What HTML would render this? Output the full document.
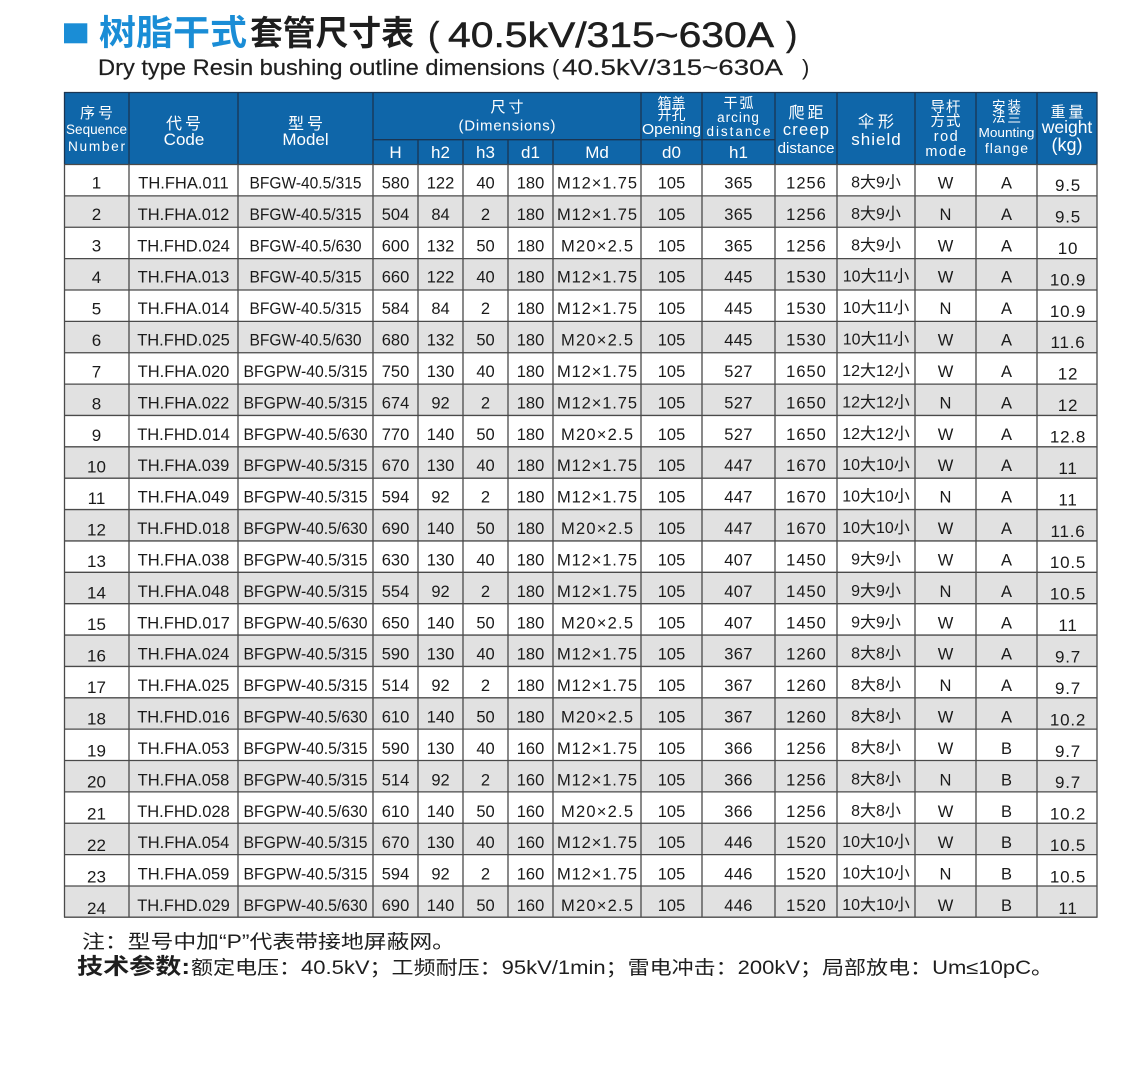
<!DOCTYPE html>
<html>
<head>
<meta charset="utf-8">
<style>
html,body{margin:0;padding:0;background:#fff;}
svg{display:block;}
.t{font-family:"Liberation Sans","Noto Sans CJK SC",sans-serif;}
.h{font-family:"Liberation Sans","Noto Sans CJK SC",sans-serif;fill:#fff;text-anchor:middle;}
.r text{font-family:"Liberation Sans","Noto Sans CJK SC",sans-serif;font-size:16.5px;fill:#1a1a1a;text-anchor:middle;}
.r .s{font-size:17px;}
.r .w{font-size:17px;letter-spacing:0.8px;}
.r .ls{letter-spacing:1px;}
.r .ls0{letter-spacing:0.3px;}
.r .sh{font-size:16px;}
</style>
</head>
<body>
<svg width="1148" height="1067" viewBox="0 0 1148 1067" xmlns="http://www.w3.org/2000/svg">
<rect x="0" y="0" width="1148" height="1067" fill="#fff"/>

<!-- Title -->
<rect x="64" y="23.3" width="23.3" height="20" fill="#1a8dd6"/>
<text class="t" x="99" y="45" font-size="35" font-weight="bold" fill="#1a8dd6" textLength="148" lengthAdjust="spacingAndGlyphs">树脂干式</text>
<text class="t" x="250" y="45" font-size="34" font-weight="bold" fill="#1e1e1e" textLength="164" lengthAdjust="spacingAndGlyphs">套管尺寸表</text>
<text class="t" x="428" y="46" font-size="34" fill="#1e1e1e" stroke="#1e1e1e" stroke-width="0.4">(</text>
<text class="t" x="448" y="47" font-size="35" fill="#1e1e1e" stroke="#1e1e1e" stroke-width="0.5" textLength="326" lengthAdjust="spacingAndGlyphs">40.5kV/315~630A</text>
<text class="t" x="786" y="46" font-size="34" fill="#1e1e1e" stroke="#1e1e1e" stroke-width="0.4">)</text>

<text class="t" x="98" y="75" font-size="22.5" fill="#1e1e1e" stroke="#1e1e1e" stroke-width="0.2" textLength="447" lengthAdjust="spacingAndGlyphs">Dry type Resin bushing outline dimensions</text>
<text class="t" x="552" y="75" font-size="22" fill="#1e1e1e">(</text>
<text class="t" x="562" y="75" font-size="22.5" fill="#1e1e1e" stroke="#1e1e1e" stroke-width="0.2" textLength="221" lengthAdjust="spacingAndGlyphs">40.5kV/315~630A</text>
<text class="t" x="802" y="75" font-size="22" fill="#1e1e1e">)</text>

<!-- Header background -->
<rect x="64" y="92" width="1033.5" height="72.5" fill="#0f66a9"/>

<!-- Row backgrounds (even rows gray) -->
<g fill="#e1e1e1">
<rect x="64" y="195.87" width="1033.5" height="31.37"/>
<rect x="64" y="258.61" width="1033.5" height="31.37"/>
<rect x="64" y="321.35" width="1033.5" height="31.37"/>
<rect x="64" y="384.09" width="1033.5" height="31.37"/>
<rect x="64" y="446.83" width="1033.5" height="31.37"/>
<rect x="64" y="509.57" width="1033.5" height="31.37"/>
<rect x="64" y="572.31" width="1033.5" height="31.37"/>
<rect x="64" y="635.05" width="1033.5" height="31.37"/>
<rect x="64" y="697.79" width="1033.5" height="31.37"/>
<rect x="64" y="760.53" width="1033.5" height="31.37"/>
<rect x="64" y="823.27" width="1033.5" height="31.37"/>
<rect x="64" y="886.01" width="1033.5" height="31.37"/>
</g>

<!-- Header lines -->
<g stroke="#1b3552" stroke-width="1.3" fill="none">
<path d="M64 92.5 H1097.5"/>
<path d="M64.5 92 V164.5 M129 92 V164.5 M238 92 V164.5 M373 92 V164.5 M641 92 V164.5 M702 92 V164.5 M775 92 V164.5 M837 92 V164.5 M915 92 V164.5 M976 92 V164.5 M1037 92 V164.5 M1097 92 V164.5"/>
<path d="M373 139.7 H775"/>
<path d="M418 139.7 V164.5 M463 139.7 V164.5 M508 139.7 V164.5 M553 139.7 V164.5"/>
</g>

<!-- Data grid -->
<g stroke="#4a4a4a" stroke-width="1.3" fill="none">
<path d="M64 164.5 H1097.5 M64 195.87 H1097.5 M64 227.24 H1097.5 M64 258.61 H1097.5 M64 289.98 H1097.5 M64 321.35 H1097.5 M64 352.72 H1097.5 M64 384.09 H1097.5 M64 415.46 H1097.5 M64 446.83 H1097.5 M64 478.2 H1097.5 M64 509.57 H1097.5 M64 540.94 H1097.5 M64 572.31 H1097.5 M64 603.68 H1097.5 M64 635.05 H1097.5 M64 666.42 H1097.5 M64 697.79 H1097.5 M64 729.16 H1097.5 M64 760.53 H1097.5 M64 791.9 H1097.5 M64 823.27 H1097.5 M64 854.64 H1097.5 M64 886.01 H1097.5 M64 917.2 H1097.5"/>
<path d="M64.5 164.5 V917.4 M129 164.5 V917.4 M238 164.5 V917.4 M373 164.5 V917.4 M418 164.5 V917.4 M463 164.5 V917.4 M508 164.5 V917.4 M553 164.5 V917.4 M641 164.5 V917.4 M702 164.5 V917.4 M775 164.5 V917.4 M837 164.5 V917.4 M915 164.5 V917.4 M976 164.5 V917.4 M1037 164.5 V917.4 M1097 164.5 V917.4"/>
</g>

<!-- Header text -->
<text class="h" x="98" y="118" font-size="15" letter-spacing="3">序号</text>
<text class="h" x="96.5" y="134" font-size="13.7" textLength="61" lengthAdjust="spacingAndGlyphs">Sequence</text>
<text class="h" x="96.5" y="151" font-size="13.7" textLength="57" lengthAdjust="spacing">Number</text>

<text class="h" x="185" y="129" font-size="16" letter-spacing="3">代号</text>
<text class="h" x="184" y="145" font-size="17">Code</text>

<text class="h" x="307" y="129" font-size="16" letter-spacing="3">型号</text>
<text class="h" x="305.5" y="145" font-size="17">Model</text>

<text class="h" x="508.5" y="112" font-size="15" letter-spacing="3">尺寸</text>
<text class="h" x="507" y="130.5" font-size="15" textLength="97" lengthAdjust="spacing">(Dimensions)</text>

<text class="h" x="395.5" y="158" font-size="17">H</text>
<text class="h" x="440.5" y="158" font-size="17">h2</text>
<text class="h" x="485.5" y="158" font-size="17">h3</text>
<text class="h" x="530.5" y="158" font-size="17">d1</text>
<text class="h" x="597" y="158" font-size="17">Md</text>
<text class="h" x="671.5" y="158" font-size="17">d0</text>
<text class="h" x="738.5" y="158" font-size="17">h1</text>

<text class="h" x="671.5" y="108" font-size="14">箱盖</text>
<text class="h" x="671.5" y="120" font-size="14">开孔</text>
<text class="h" x="671.5" y="134" font-size="14.5" textLength="59" lengthAdjust="spacingAndGlyphs">Opening</text>

<text class="h" x="739.5" y="108" font-size="14" letter-spacing="2">干弧</text>
<text class="h" x="738.5" y="122" font-size="13.5" letter-spacing="1">arcing</text>
<text class="h" x="738.5" y="136" font-size="13.5" textLength="64" lengthAdjust="spacing">distance</text>

<text class="h" x="807.5" y="118" font-size="16" letter-spacing="3">爬距</text>
<text class="h" x="806.5" y="135" font-size="16.5" letter-spacing="1.2">creep</text>
<text class="h" x="806" y="153" font-size="15" textLength="57" lengthAdjust="spacingAndGlyphs">distance</text>

<text class="h" x="878" y="127" font-size="16" letter-spacing="4">伞形</text>
<text class="h" x="876.5" y="145" font-size="17" letter-spacing="1">shield</text>

<text class="h" x="946" y="112" font-size="14.5" letter-spacing="1">导杆</text>
<text class="h" x="946" y="126" font-size="14.5" letter-spacing="1">方式</text>
<text class="h" x="946.5" y="141" font-size="14.5" letter-spacing="1.5">rod</text>
<text class="h" x="946.5" y="156" font-size="14.5" letter-spacing="1.5">mode</text>

<text class="h" x="1007.5" y="111" font-size="13.5" letter-spacing="2">安装</text>
<text class="h" x="1007.5" y="122" font-size="13.5" letter-spacing="2">法兰</text>
<text class="h" x="1006.5" y="137" font-size="13" textLength="56" lengthAdjust="spacingAndGlyphs">Mounting</text>
<text class="h" x="1007" y="153" font-size="14" letter-spacing="1">flange</text>

<text class="h" x="1068.5" y="117" font-size="15" letter-spacing="3">重量</text>
<text class="h" x="1067" y="133" font-size="17.5">weight</text>
<text class="h" x="1067" y="151" font-size="18">(kg)</text>

<!-- Data rows -->
<g class="r" transform="translate(0,164.5)">
<text class="s" x="96.5" y="24">1</text><text x="183.5" y="24">TH.FHA.011</text><text x="305.5" y="24" textLength="112" lengthAdjust="spacingAndGlyphs">BFGW-40.5/315</text><text x="395.5" y="24">580</text><text x="440.5" y="24">122</text><text x="485.5" y="24">40</text><text x="530.5" y="24">180</text><text x="597" y="24" textLength="80" lengthAdjust="spacing">M12×1.75</text><text x="671.5" y="24">105</text><text class="ls0" x="738.5" y="24">365</text><text class="ls" x="806.5" y="24">1256</text><text class="sh" x="876" y="23">8大9小</text><text x="945.5" y="24">W</text><text x="1006.5" y="24">A</text><text class="w" x="1068" y="26.5">9.5</text>
</g>
<g class="r" transform="translate(0,195.87)">
<text class="s" x="96.5" y="24.2">2</text><text x="183.5" y="24">TH.FHA.012</text><text x="305.5" y="24" textLength="112" lengthAdjust="spacingAndGlyphs">BFGW-40.5/315</text><text x="395.5" y="24">504</text><text x="440.5" y="24">84</text><text x="485.5" y="24">2</text><text x="530.5" y="24">180</text><text x="597" y="24" textLength="80" lengthAdjust="spacing">M12×1.75</text><text x="671.5" y="24">105</text><text class="ls0" x="738.5" y="24">365</text><text class="ls" x="806.5" y="24">1256</text><text class="sh" x="876" y="23">8大9小</text><text x="945.5" y="24">N</text><text x="1006.5" y="24">A</text><text class="w" x="1068" y="26.6">9.5</text>
</g>
<g class="r" transform="translate(0,227.24)">
<text class="s" x="96.5" y="24.3">3</text><text x="183.5" y="24.1">TH.FHD.024</text><text x="305.5" y="24.1" textLength="112" lengthAdjust="spacingAndGlyphs">BFGW-40.5/630</text><text x="395.5" y="24.1">600</text><text x="440.5" y="24.1">132</text><text x="485.5" y="24.1">50</text><text x="530.5" y="24.1">180</text><text x="597" y="24.1" textLength="72" lengthAdjust="spacing">M20×2.5</text><text x="671.5" y="24.1">105</text><text class="ls0" x="738.5" y="24.1">365</text><text class="ls" x="806.5" y="24.1">1256</text><text class="sh" x="876" y="23.1">8大9小</text><text x="945.5" y="24.1">W</text><text x="1006.5" y="24.1">A</text><text class="w" x="1068" y="26.6">10</text>
</g>
<g class="r" transform="translate(0,258.61)">
<text class="s" x="96.5" y="24.5">4</text><text x="183.5" y="24.1">TH.FHA.013</text><text x="305.5" y="24.1" textLength="112" lengthAdjust="spacingAndGlyphs">BFGW-40.5/315</text><text x="395.5" y="24.1">660</text><text x="440.5" y="24.1">122</text><text x="485.5" y="24.1">40</text><text x="530.5" y="24.1">180</text><text x="597" y="24.1" textLength="80" lengthAdjust="spacing">M12×1.75</text><text x="671.5" y="24.1">105</text><text class="ls0" x="738.5" y="24.1">445</text><text class="ls" x="806.5" y="24.1">1530</text><text class="sh" x="876" y="23.1">10大11小</text><text x="945.5" y="24.1">W</text><text x="1006.5" y="24.1">A</text><text class="w" x="1068" y="26.7">10.9</text>
</g>
<g class="r" transform="translate(0,289.98)">
<text class="s" x="96.5" y="24.7">5</text><text x="183.5" y="24.2">TH.FHA.014</text><text x="305.5" y="24.2" textLength="112" lengthAdjust="spacingAndGlyphs">BFGW-40.5/315</text><text x="395.5" y="24.2">584</text><text x="440.5" y="24.2">84</text><text x="485.5" y="24.2">2</text><text x="530.5" y="24.2">180</text><text x="597" y="24.2" textLength="80" lengthAdjust="spacing">M12×1.75</text><text x="671.5" y="24.2">105</text><text class="ls0" x="738.5" y="24.2">445</text><text class="ls" x="806.5" y="24.2">1530</text><text class="sh" x="876" y="23.2">10大11小</text><text x="945.5" y="24.2">N</text><text x="1006.5" y="24.2">A</text><text class="w" x="1068" y="26.8">10.9</text>
</g>
<g class="r" transform="translate(0,321.35)">
<text class="s" x="96.5" y="24.9">6</text><text x="183.5" y="24.2">TH.FHD.025</text><text x="305.5" y="24.2" textLength="112" lengthAdjust="spacingAndGlyphs">BFGW-40.5/630</text><text x="395.5" y="24.2">680</text><text x="440.5" y="24.2">132</text><text x="485.5" y="24.2">50</text><text x="530.5" y="24.2">180</text><text x="597" y="24.2" textLength="72" lengthAdjust="spacing">M20×2.5</text><text x="671.5" y="24.2">105</text><text class="ls0" x="738.5" y="24.2">445</text><text class="ls" x="806.5" y="24.2">1530</text><text class="sh" x="876" y="23.2">10大11小</text><text x="945.5" y="24.2">W</text><text x="1006.5" y="24.2">A</text><text class="w" x="1068" y="26.8">11.6</text>
</g>
<g class="r" transform="translate(0,352.72)">
<text class="s" x="96.5" y="25">7</text><text x="183.5" y="24.3">TH.FHA.020</text><text x="305.5" y="24.3" textLength="124" lengthAdjust="spacingAndGlyphs">BFGPW-40.5/315</text><text x="395.5" y="24.3">750</text><text x="440.5" y="24.3">130</text><text x="485.5" y="24.3">40</text><text x="530.5" y="24.3">180</text><text x="597" y="24.3" textLength="80" lengthAdjust="spacing">M12×1.75</text><text x="671.5" y="24.3">105</text><text class="ls0" x="738.5" y="24.3">527</text><text class="ls" x="806.5" y="24.3">1650</text><text class="sh" x="876" y="23.3">12大12小</text><text x="945.5" y="24.3">W</text><text x="1006.5" y="24.3">A</text><text class="w" x="1068" y="26.9">12</text>
</g>
<g class="r" transform="translate(0,384.09)">
<text class="s" x="96.5" y="25.2">8</text><text x="183.5" y="24.3">TH.FHA.022</text><text x="305.5" y="24.3" textLength="124" lengthAdjust="spacingAndGlyphs">BFGPW-40.5/315</text><text x="395.5" y="24.3">674</text><text x="440.5" y="24.3">92</text><text x="485.5" y="24.3">2</text><text x="530.5" y="24.3">180</text><text x="597" y="24.3" textLength="80" lengthAdjust="spacing">M12×1.75</text><text x="671.5" y="24.3">105</text><text class="ls0" x="738.5" y="24.3">527</text><text class="ls" x="806.5" y="24.3">1650</text><text class="sh" x="876" y="23.3">12大12小</text><text x="945.5" y="24.3">N</text><text x="1006.5" y="24.3">A</text><text class="w" x="1068" y="27">12</text>
</g>
<g class="r" transform="translate(0,415.46)">
<text class="s" x="96.5" y="25.4">9</text><text x="183.5" y="24.4">TH.FHD.014</text><text x="305.5" y="24.4" textLength="124" lengthAdjust="spacingAndGlyphs">BFGPW-40.5/630</text><text x="395.5" y="24.4">770</text><text x="440.5" y="24.4">140</text><text x="485.5" y="24.4">50</text><text x="530.5" y="24.4">180</text><text x="597" y="24.4" textLength="72" lengthAdjust="spacing">M20×2.5</text><text x="671.5" y="24.4">105</text><text class="ls0" x="738.5" y="24.4">527</text><text class="ls" x="806.5" y="24.4">1650</text><text class="sh" x="876" y="23.4">12大12小</text><text x="945.5" y="24.4">W</text><text x="1006.5" y="24.4">A</text><text class="w" x="1068" y="27">12.8</text>
</g>
<g class="r" transform="translate(0,446.83)">
<text class="s" x="96.5" y="25.5">10</text><text x="183.5" y="24.4">TH.FHA.039</text><text x="305.5" y="24.4" textLength="124" lengthAdjust="spacingAndGlyphs">BFGPW-40.5/315</text><text x="395.5" y="24.4">670</text><text x="440.5" y="24.4">130</text><text x="485.5" y="24.4">40</text><text x="530.5" y="24.4">180</text><text x="597" y="24.4" textLength="80" lengthAdjust="spacing">M12×1.75</text><text x="671.5" y="24.4">105</text><text class="ls0" x="738.5" y="24.4">447</text><text class="ls" x="806.5" y="24.4">1670</text><text class="sh" x="876" y="23.4">10大10小</text><text x="945.5" y="24.4">W</text><text x="1006.5" y="24.4">A</text><text class="w" x="1068" y="27.1">11</text>
</g>
<g class="r" transform="translate(0,478.2)">
<text class="s" x="96.5" y="25.7">11</text><text x="183.5" y="24.5">TH.FHA.049</text><text x="305.5" y="24.5" textLength="124" lengthAdjust="spacingAndGlyphs">BFGPW-40.5/315</text><text x="395.5" y="24.5">594</text><text x="440.5" y="24.5">92</text><text x="485.5" y="24.5">2</text><text x="530.5" y="24.5">180</text><text x="597" y="24.5" textLength="80" lengthAdjust="spacing">M12×1.75</text><text x="671.5" y="24.5">105</text><text class="ls0" x="738.5" y="24.5">447</text><text class="ls" x="806.5" y="24.5">1670</text><text class="sh" x="876" y="23.5">10大10小</text><text x="945.5" y="24.5">N</text><text x="1006.5" y="24.5">A</text><text class="w" x="1068" y="27.2">11</text>
</g>
<g class="r" transform="translate(0,509.57)">
<text class="s" x="96.5" y="25.9">12</text><text x="183.5" y="24.5">TH.FHD.018</text><text x="305.5" y="24.5" textLength="124" lengthAdjust="spacingAndGlyphs">BFGPW-40.5/630</text><text x="395.5" y="24.5">690</text><text x="440.5" y="24.5">140</text><text x="485.5" y="24.5">50</text><text x="530.5" y="24.5">180</text><text x="597" y="24.5" textLength="72" lengthAdjust="spacing">M20×2.5</text><text x="671.5" y="24.5">105</text><text class="ls0" x="738.5" y="24.5">447</text><text class="ls" x="806.5" y="24.5">1670</text><text class="sh" x="876" y="23.5">10大10小</text><text x="945.5" y="24.5">W</text><text x="1006.5" y="24.5">A</text><text class="w" x="1068" y="27.2">11.6</text>
</g>
<g class="r" transform="translate(0,540.94)">
<text class="s" x="96.5" y="26">13</text><text x="183.5" y="24.5">TH.FHA.038</text><text x="305.5" y="24.5" textLength="124" lengthAdjust="spacingAndGlyphs">BFGPW-40.5/315</text><text x="395.5" y="24.5">630</text><text x="440.5" y="24.5">130</text><text x="485.5" y="24.5">40</text><text x="530.5" y="24.5">180</text><text x="597" y="24.5" textLength="80" lengthAdjust="spacing">M12×1.75</text><text x="671.5" y="24.5">105</text><text class="ls0" x="738.5" y="24.5">407</text><text class="ls" x="806.5" y="24.5">1450</text><text class="sh" x="876" y="23.5">9大9小</text><text x="945.5" y="24.5">W</text><text x="1006.5" y="24.5">A</text><text class="w" x="1068" y="27.3">10.5</text>
</g>
<g class="r" transform="translate(0,572.31)">
<text class="s" x="96.5" y="26.2">14</text><text x="183.5" y="24.6">TH.FHA.048</text><text x="305.5" y="24.6" textLength="124" lengthAdjust="spacingAndGlyphs">BFGPW-40.5/315</text><text x="395.5" y="24.6">554</text><text x="440.5" y="24.6">92</text><text x="485.5" y="24.6">2</text><text x="530.5" y="24.6">180</text><text x="597" y="24.6" textLength="80" lengthAdjust="spacing">M12×1.75</text><text x="671.5" y="24.6">105</text><text class="ls0" x="738.5" y="24.6">407</text><text class="ls" x="806.5" y="24.6">1450</text><text class="sh" x="876" y="23.6">9大9小</text><text x="945.5" y="24.6">N</text><text x="1006.5" y="24.6">A</text><text class="w" x="1068" y="27.3">10.5</text>
</g>
<g class="r" transform="translate(0,603.68)">
<text class="s" x="96.5" y="26.4">15</text><text x="183.5" y="24.6">TH.FHD.017</text><text x="305.5" y="24.6" textLength="124" lengthAdjust="spacingAndGlyphs">BFGPW-40.5/630</text><text x="395.5" y="24.6">650</text><text x="440.5" y="24.6">140</text><text x="485.5" y="24.6">50</text><text x="530.5" y="24.6">180</text><text x="597" y="24.6" textLength="72" lengthAdjust="spacing">M20×2.5</text><text x="671.5" y="24.6">105</text><text class="ls0" x="738.5" y="24.6">407</text><text class="ls" x="806.5" y="24.6">1450</text><text class="sh" x="876" y="23.6">9大9小</text><text x="945.5" y="24.6">W</text><text x="1006.5" y="24.6">A</text><text class="w" x="1068" y="27.4">11</text>
</g>
<g class="r" transform="translate(0,635.05)">
<text class="s" x="96.5" y="26.6">16</text><text x="183.5" y="24.7">TH.FHA.024</text><text x="305.5" y="24.7" textLength="124" lengthAdjust="spacingAndGlyphs">BFGPW-40.5/315</text><text x="395.5" y="24.7">590</text><text x="440.5" y="24.7">130</text><text x="485.5" y="24.7">40</text><text x="530.5" y="24.7">180</text><text x="597" y="24.7" textLength="80" lengthAdjust="spacing">M12×1.75</text><text x="671.5" y="24.7">105</text><text class="ls0" x="738.5" y="24.7">367</text><text class="ls" x="806.5" y="24.7">1260</text><text class="sh" x="876" y="23.7">8大8小</text><text x="945.5" y="24.7">W</text><text x="1006.5" y="24.7">A</text><text class="w" x="1068" y="27.5">9.7</text>
</g>
<g class="r" transform="translate(0,666.42)">
<text class="s" x="96.5" y="26.7">17</text><text x="183.5" y="24.7">TH.FHA.025</text><text x="305.5" y="24.7" textLength="124" lengthAdjust="spacingAndGlyphs">BFGPW-40.5/315</text><text x="395.5" y="24.7">514</text><text x="440.5" y="24.7">92</text><text x="485.5" y="24.7">2</text><text x="530.5" y="24.7">180</text><text x="597" y="24.7" textLength="80" lengthAdjust="spacing">M12×1.75</text><text x="671.5" y="24.7">105</text><text class="ls0" x="738.5" y="24.7">367</text><text class="ls" x="806.5" y="24.7">1260</text><text class="sh" x="876" y="23.7">8大8小</text><text x="945.5" y="24.7">N</text><text x="1006.5" y="24.7">A</text><text class="w" x="1068" y="27.5">9.7</text>
</g>
<g class="r" transform="translate(0,697.79)">
<text class="s" x="96.5" y="26.9">18</text><text x="183.5" y="24.8">TH.FHD.016</text><text x="305.5" y="24.8" textLength="124" lengthAdjust="spacingAndGlyphs">BFGPW-40.5/630</text><text x="395.5" y="24.8">610</text><text x="440.5" y="24.8">140</text><text x="485.5" y="24.8">50</text><text x="530.5" y="24.8">180</text><text x="597" y="24.8" textLength="72" lengthAdjust="spacing">M20×2.5</text><text x="671.5" y="24.8">105</text><text class="ls0" x="738.5" y="24.8">367</text><text class="ls" x="806.5" y="24.8">1260</text><text class="sh" x="876" y="23.8">8大8小</text><text x="945.5" y="24.8">W</text><text x="1006.5" y="24.8">A</text><text class="w" x="1068" y="27.6">10.2</text>
</g>
<g class="r" transform="translate(0,729.16)">
<text class="s" x="96.5" y="27.1">19</text><text x="183.5" y="24.8">TH.FHA.053</text><text x="305.5" y="24.8" textLength="124" lengthAdjust="spacingAndGlyphs">BFGPW-40.5/315</text><text x="395.5" y="24.8">590</text><text x="440.5" y="24.8">130</text><text x="485.5" y="24.8">40</text><text x="530.5" y="24.8">160</text><text x="597" y="24.8" textLength="80" lengthAdjust="spacing">M12×1.75</text><text x="671.5" y="24.8">105</text><text class="ls0" x="738.5" y="24.8">366</text><text class="ls" x="806.5" y="24.8">1256</text><text class="sh" x="876" y="23.8">8大8小</text><text x="945.5" y="24.8">W</text><text x="1006.5" y="24.8">B</text><text class="w" x="1068" y="27.7">9.7</text>
</g>
<g class="r" transform="translate(0,760.53)">
<text class="s" x="96.5" y="27.2">20</text><text x="183.5" y="24.9">TH.FHA.058</text><text x="305.5" y="24.9" textLength="124" lengthAdjust="spacingAndGlyphs">BFGPW-40.5/315</text><text x="395.5" y="24.9">514</text><text x="440.5" y="24.9">92</text><text x="485.5" y="24.9">2</text><text x="530.5" y="24.9">160</text><text x="597" y="24.9" textLength="80" lengthAdjust="spacing">M12×1.75</text><text x="671.5" y="24.9">105</text><text class="ls0" x="738.5" y="24.9">366</text><text class="ls" x="806.5" y="24.9">1256</text><text class="sh" x="876" y="23.9">8大8小</text><text x="945.5" y="24.9">N</text><text x="1006.5" y="24.9">B</text><text class="w" x="1068" y="27.7">9.7</text>
</g>
<g class="r" transform="translate(0,791.9)">
<text class="s" x="96.5" y="27.4">21</text><text x="183.5" y="24.9">TH.FHD.028</text><text x="305.5" y="24.9" textLength="124" lengthAdjust="spacingAndGlyphs">BFGPW-40.5/630</text><text x="395.5" y="24.9">610</text><text x="440.5" y="24.9">140</text><text x="485.5" y="24.9">50</text><text x="530.5" y="24.9">160</text><text x="597" y="24.9" textLength="72" lengthAdjust="spacing">M20×2.5</text><text x="671.5" y="24.9">105</text><text class="ls0" x="738.5" y="24.9">366</text><text class="ls" x="806.5" y="24.9">1256</text><text class="sh" x="876" y="23.9">8大8小</text><text x="945.5" y="24.9">W</text><text x="1006.5" y="24.9">B</text><text class="w" x="1068" y="27.8">10.2</text>
</g>
<g class="r" transform="translate(0,823.27)">
<text class="s" x="96.5" y="27.6">22</text><text x="183.5" y="24.9">TH.FHA.054</text><text x="305.5" y="24.9" textLength="124" lengthAdjust="spacingAndGlyphs">BFGPW-40.5/315</text><text x="395.5" y="24.9">670</text><text x="440.5" y="24.9">130</text><text x="485.5" y="24.9">40</text><text x="530.5" y="24.9">160</text><text x="597" y="24.9" textLength="80" lengthAdjust="spacing">M12×1.75</text><text x="671.5" y="24.9">105</text><text class="ls0" x="738.5" y="24.9">446</text><text class="ls" x="806.5" y="24.9">1520</text><text class="sh" x="876" y="23.9">10大10小</text><text x="945.5" y="24.9">W</text><text x="1006.5" y="24.9">B</text><text class="w" x="1068" y="27.9">10.5</text>
</g>
<g class="r" transform="translate(0,854.64)">
<text class="s" x="96.5" y="27.7">23</text><text x="183.5" y="25">TH.FHA.059</text><text x="305.5" y="25" textLength="124" lengthAdjust="spacingAndGlyphs">BFGPW-40.5/315</text><text x="395.5" y="25">594</text><text x="440.5" y="25">92</text><text x="485.5" y="25">2</text><text x="530.5" y="25">160</text><text x="597" y="25" textLength="80" lengthAdjust="spacing">M12×1.75</text><text x="671.5" y="25">105</text><text class="ls0" x="738.5" y="25">446</text><text class="ls" x="806.5" y="25">1520</text><text class="sh" x="876" y="24">10大10小</text><text x="945.5" y="25">N</text><text x="1006.5" y="25">B</text><text class="w" x="1068" y="27.9">10.5</text>
</g>
<g class="r" transform="translate(0,886.01)">
<text class="s" x="96.5" y="27.9">24</text><text x="183.5" y="25">TH.FHD.029</text><text x="305.5" y="25" textLength="124" lengthAdjust="spacingAndGlyphs">BFGPW-40.5/630</text><text x="395.5" y="25">690</text><text x="440.5" y="25">140</text><text x="485.5" y="25">50</text><text x="530.5" y="25">160</text><text x="597" y="25" textLength="72" lengthAdjust="spacing">M20×2.5</text><text x="671.5" y="25">105</text><text class="ls0" x="738.5" y="25">446</text><text class="ls" x="806.5" y="25">1520</text><text class="sh" x="876" y="24">10大10小</text><text x="945.5" y="25">W</text><text x="1006.5" y="25">B</text><text class="w" x="1068" y="28">11</text>
</g>

<!-- Notes -->
<text class="t" x="82" y="948" font-size="19" fill="#1e1e1e" textLength="373" lengthAdjust="spacingAndGlyphs">注：型号中加“P”代表带接地屏蔽网。</text>
<text class="t" x="77" y="974" font-size="22" font-weight="bold" fill="#1e1e1e" textLength="113" lengthAdjust="spacingAndGlyphs">技术参数:</text>
<text class="t" x="191" y="974" font-size="19" fill="#1e1e1e" textLength="862" lengthAdjust="spacingAndGlyphs">额定电压：40.5kV；工频耐压：95kV/1min；雷电冲击：200kV；局部放电：Um≤10pC。</text>
</svg>
</body>
</html>
